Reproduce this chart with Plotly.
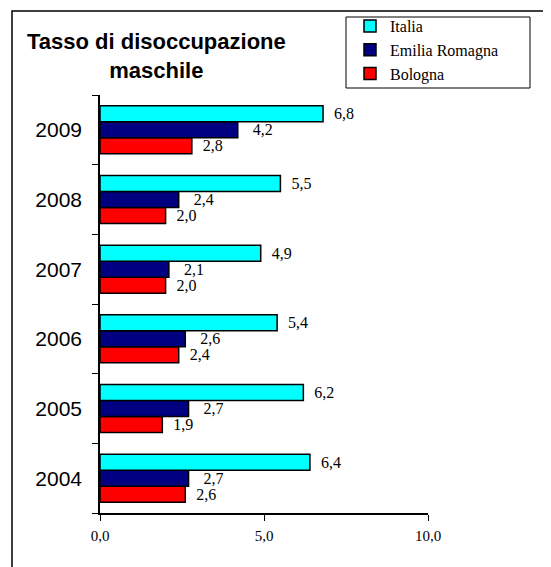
import plotly.graph_objects as go

years = ["2004", "2005", "2006", "2007", "2008", "2009"]
italia = [6.4, 6.2, 5.4, 4.9, 5.5, 6.8]
emilia = [2.7, 2.7, 2.6, 2.1, 2.4, 4.2]
bologna = [2.6, 1.9, 2.4, 2.0, 2.0, 2.8]
series_names = ["Italia", "Emilia Romagna", "Bologna"]
series_colors = ["#00FFFF", "#000080", "#FF0000"]
label_templates = ["  %{x:.1f}", "   %{x:.1f}", "  %{x:.1f}"]
x_ticks = [0, 5, 10]

W, H = 551, 567
OFF = 8  # page body margin offset
# target plot area in screen pixels: x 100..428, y 95..513
PX0, PX1, PY0, PY1 = 100, 428, 95, 513
ML = PX0 - OFF
MT = PY0 - OFF
MR = W - (PX1 - OFF)
MB = H - (PY1 - OFF)
PW, PH = PX1 - PX0, PY1 - PY0

def px_x(p):
    return (p - PX0) / PW

def px_y(p):
    return (PY1 - p) / PH

fig = go.Figure()
data = [italia, emilia, bologna]
for name, vals, col, tt in reversed(list(zip(series_names, data, series_colors, label_templates))):
    fig.add_trace(go.Bar(
        y=years, x=vals, name=name, orientation="h",
        marker=dict(color=col, line=dict(color="black", width=1.5)),
        texttemplate=tt, textposition="outside",
        textfont=dict(family="Liberation Serif", size=16, color="black"),
        constraintext="none", cliponaxis=False,
    ))

fig.update_layout(
    width=W, height=H,
    margin=dict(l=ML, r=MR, t=MT, b=MB, autoexpand=False),
    paper_bgcolor="white", plot_bgcolor="white",
    barmode="group", bargap=0.31, bargroupgap=0,
    separators=",.",
    showlegend=True,
    legend=dict(
        traceorder="reversed",
        x=px_x(350), y=px_y(9), xanchor="left", yanchor="top",
        bgcolor="rgba(0,0,0,0)", borderwidth=0,
        font=dict(family="Liberation Serif", size=16, color="black"),
        itemwidth=30, tracegroupgap=0,
    ),
    xaxis=dict(
        range=[0, 10], tickvals=x_ticks, tickformat=".1f",
        showgrid=False, zeroline=False,
        showline=True, linecolor="black", linewidth=1.5,
        ticks="outside", ticklen=6, tickcolor="black", tickwidth=1,
        tickfont=dict(family="Liberation Serif", size=15, color="black"),
        ticklabelstandoff=2,
    ),
    yaxis=dict(
        showgrid=False, zeroline=False,
        showline=True, linecolor="black", linewidth=1.5,
        ticks="outside", ticklen=6, tickcolor="black", tickwidth=1,
        tickson="boundaries",
        tickfont=dict(family="Liberation Sans", size=21, color="black"),
        ticklabelstandoff=12,
    ),
    shapes=[
        dict(type="rect", xref="paper", yref="paper",
             x0=px_x(12), x1=px_x(620), y0=px_y(640), y1=px_y(11),
             line=dict(color="black", width=1.5), fillcolor="rgba(0,0,0,0)"),
        dict(type="rect", xref="paper", yref="paper",
             x0=px_x(346), x1=px_x(530), y0=px_y(88), y1=px_y(17),
             line=dict(color="black", width=1), fillcolor="rgba(0,0,0,0)"),
    ],
    annotations=[
        dict(text="<b>Tasso di disoccupazione<br>maschile</b>",
             xref="paper", yref="paper", x=px_x(156), y=px_y(56),
             xanchor="center", yanchor="middle", showarrow=False, align="center",
             font=dict(family="Liberation Sans", size=22, color="black")),
    ],
)

fig.write_html("out.html")
